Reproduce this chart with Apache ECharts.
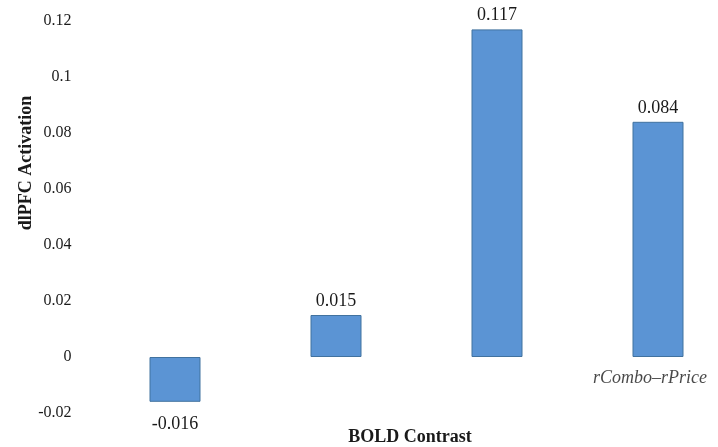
<!DOCTYPE html>
<html>
<head>
<meta charset="utf-8">
<script src="https://cdn.jsdelivr.net/npm/echarts@6/dist/echarts.min.js"></script>
<style>
  html, body { margin: 0; padding: 0; background: #ffffff; }
  #chart { width: 718px; height: 447px; }
</style>
</head>
<body>
<div id="chart"></div>
<script>
// BOLD contrast activation in dlPFC
const categories = ['', '', '', 'rCombo\u2013rPrice'];
const activation = [-0.016, 0.015, 0.117, 0.084];
const yTicks = { min: -0.02, max: 0.12, step: 0.02 };

const serif = '"Liberation Serif", "DejaVu Serif", serif';
const ink = '#1a1a1a';

const chart = echarts.init(document.getElementById('chart'));
chart.setOption({
  backgroundColor: '#ffffff',
  animation: false,
  grid: { left: 175, right: 60, top: 21, bottom: 34 },
  xAxis: {
    type: 'category',
    data: categories,
    boundaryGap: false,
    axisLine: { show: false },
    axisTick: { show: false },
    axisLabel: { show: false }
  },
  yAxis: {
    type: 'value',
    min: yTicks.min,
    max: yTicks.max,
    interval: yTicks.step,
    axisLine: { show: false },
    axisTick: { show: false },
    splitLine: { show: false },
    axisLabel: {
      margin: 103.5,
      color: ink,
      fontFamily: serif,
      fontSize: 16,
      formatter: v => String(parseFloat(v.toFixed(3)))
    }
  },
  series: [
    {
      type: 'bar',
      clip: false,
      data: activation.map(v => ({
        value: v,
        label: { position: v < 0 ? 'bottom' : 'top', distance: v < 0 ? 13 : 5 }
      })),
      barWidth: 51,
      itemStyle: { color: '#5b94d4', borderColor: '#41729f', borderWidth: 1 },
      label: {
        show: true,
        color: ink,
        fontFamily: serif,
        fontSize: 18,
        formatter: p => p.value.toFixed(3)
      }
    },
    {
      // category names sit just below the zero line
      type: 'scatter',
      clip: false,
      symbolSize: 0,
      silent: true,
      data: categories.map(c => [c, 0]),
      label: {
        show: true,
        position: 'bottom',
        distance: 12,
        offset: [-8, 0],
        color: ink,
        fontFamily: serif,
        fontStyle: 'italic',
        fontSize: 18,
        formatter: p => categories[p.dataIndex]
      }
    }
  ],
  graphic: [
    {
      type: 'text',
      x: 26, y: 163,
      rotation: Math.PI / 2,
      style: {
        text: 'dlPFC Activation',
        fontFamily: serif, fontWeight: 'bold', fontSize: 18,
        fill: ink, align: 'center', verticalAlign: 'middle'
      }
    },
    {
      type: 'text',
      x: 410, y: 437,
      style: {
        text: 'BOLD Contrast',
        fontFamily: serif, fontWeight: 'bold', fontSize: 18,
        fill: ink, align: 'center', verticalAlign: 'middle'
      }
    }
  ]
});
</script>
</body>
</html>
